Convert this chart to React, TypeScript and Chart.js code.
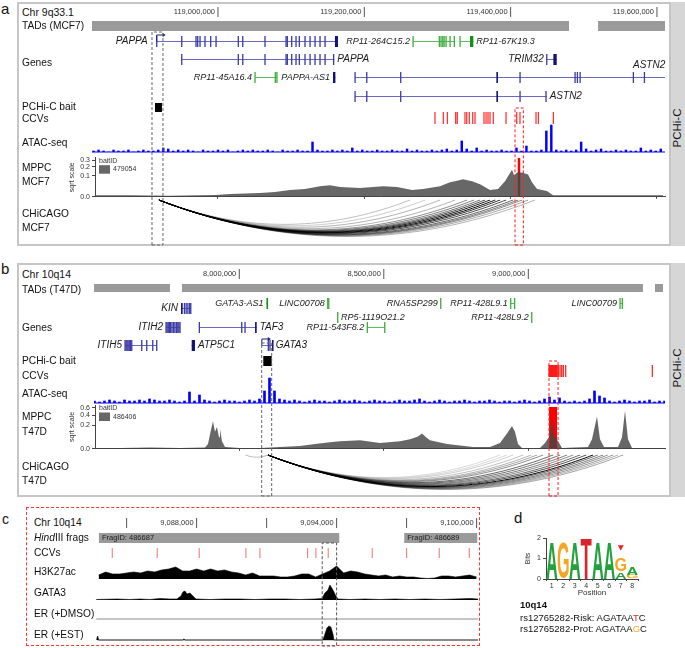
import React, { useEffect, useMemo, useRef } from 'react';
import { Chart, registerables } from 'chart.js';

Chart.register(...registerables);

const FONT = '"Liberation Sans", Arial, Helvetica, sans-serif';
Chart.defaults.font.family = FONT;
Chart.defaults.color = '#222';

// ======================= DATA =======================
// ---------- Panel a : Chr 9q33.1 (positions in Mb) ----------
const rulerTicksA = [119.0, 119.2, 119.4, 119.6];
const tadsA = [[118.8278, 119.4798], [119.5195, 119.611]];
const genesA = [
  { name: 'PAPPA', start: 118.9162, end: 119.164, row: 0, color: 'navy', label: 'left', arrow: true,
    exons: [118.9162, 118.9504, 118.9699, 118.9722, 118.9754, 118.9822, 118.99, 118.9973, 119.0277, 119.0338, 119.0642, 119.093, 119.0947, 119.1007, 119.1066, 119.1111, 119.1189, 119.1258, 119.1326, 119.1394, 119.1463],
    blocks: [[119.1599, 119.164]] },
  { name: 'RP11-264C15.2', start: 119.2666, end: 119.324, row: 0, color: 'green', label: 'left',
    exons: [119.2666, 119.3025, 119.3048, 119.3072, 119.309, 119.3117, 119.3172, 119.323], blocks: [] },
  { name: 'RP11-67K19.3', start: 119.3308, end: 119.349, row: 0, color: 'green', label: 'right',
    exons: [119.3308], blocks: [[119.3445, 119.349]] },
  { name: 'PAPPA', start: 118.9504, end: 119.159, row: 1, color: 'navy', label: 'right',
    exons: [118.9504, 119.0277, 119.0338, 119.0642, 119.093, 119.0947, 119.1007, 119.1066, 119.1111, 119.1189, 119.1258, 119.1326, 119.1394, 119.1463, 119.158], blocks: [] },
  { name: 'TRIM32', start: 119.4493, end: 119.463, row: 1, color: 'navy', label: 'left',
    exons: [119.4493], blocks: [[119.4584, 119.463]] },
  { name: 'RP11-45A16.4', start: 119.0506, end: 119.0811, row: 2, color: 'green', label: 'left',
    exons: [119.0506, 119.0783, 119.0805], blocks: [] },
  { name: 'PAPPA-AS1', start: 119.1572, end: 119.1605, row: 2, color: 'navy', label: 'left',
    exons: [], blocks: [[119.1572, 119.1605]] },
  { name: 'ASTN2', start: 119.1873, end: 119.611, row: 2, color: 'navy', label: 'none',
    exons: [119.1873, 119.2033, 119.2497, 119.4128, 119.488, 119.4912, 119.4949, 119.5677, 119.5828], blocks: [[119.3805, 119.3823]] },
  { name: 'ASTN2', start: 119.1873, end: 119.4493, row: 3, color: 'navy', label: 'right',
    exons: [119.1873, 119.2033, 119.2497, 119.4128, 119.4483], blocks: [[119.3805, 119.3823]] },
];
const baitA = [118.9139, 118.9234];
const ccvA = [119.2966, 119.308, 119.3135, 119.3249, 119.3271, 119.3376, 119.34, 119.3435, 119.3482, 119.3513, 119.3636, 119.3664, 119.3691, 119.3718, 119.3763, 119.3937, 119.4083, 119.4128, 119.4347, 119.4379, 119.4584];
const atacStartA = 118.83;
const atacStepA = 0.0068;
const atacA = [1, 2, 1, 0, 2, 1, 1, 2, 0, 1, 2, 1, 1, 2, 4, 3, 1, 2, 1, 2, 1, 0, 2, 1, 1, 2, 1, 2, 0, 1, 2, 1, 2, 1, 1, 2, 1, 0, 2, 1, 1, 2, 1, 1, 10, 2, 1, 1, 2, 1, 2, 1, 4, 1, 2, 1, 1, 2, 1, 1, 2, 1, 1, 3, 1, 2, 1, 1, 2, 1, 2, 3, 1, 2, 11, 3, 1, 4, 1, 2, 1, 1, 2, 1, 1, 4, 1, 6, 1, 1, 2, 21, 27, 2, 1, 2, 1, 2, 10, 3, 1, 2, 3, 1, 1, 2, 1, 2, 1, 1, 4, 1, 2, 1, 3];
const mppcPosA = [118.8319, 118.8797, 118.9344, 118.9754, 118.9959, 119.0164, 119.0369, 119.0574, 119.0779, 119.0984, 119.1189, 119.1394, 119.1531, 119.1668, 119.1941, 119.2256, 119.2447, 119.2652, 119.2802, 119.3035, 119.3171, 119.324, 119.3349, 119.3472, 119.3582, 119.3718, 119.3828, 119.3923, 119.4019, 119.4047, 119.4088, 119.4156, 119.4238, 119.4292, 119.4361, 119.4497, 119.458, 119.5222, 119.6083];
const mppcValA = [0.0005, 0.0005, 0.0002, 0.0005, 0.0008, 0.0019, 0.0026, 0.0034, 0.0053, 0.0103, 0.0134, 0.0254, 0.0302, 0.021, 0.017, 0.0254, 0.021, 0.0103, 0.0134, 0.0254, 0.0473, 0.0538, 0.0681, 0.0538, 0.0355, 0.0103, 0.0134, 0.0538, 0.1647, 0.1017, 0.1313, 0.1313, 0.1111, 0.0473, 0.0134, 0.0076, 0.0005, 0.0005, 0.0005];
const mppcHitA = [119.4094, 119.4135];
const mppcHitValA = 0.388;
const mppcTicksA = [0, 0.1, 0.2, 0.3];
const baitIdA = '479054';
const arcBaitA = 118.9193;
const arcEndsA = [119.2625, 119.283, 119.3035, 119.324, 119.3404, 119.35, 119.3582, 119.365, 119.3718, 119.379, 119.3855, 119.3937, 119.4033, 119.4101, 119.4156, 119.4238, 119.4333];
const arcScoreA = [0.25, 0.2, 0.3, 0.3, 0.45, 0.5, 0.55, 0.7, 0.9, 0.95, 0.8, 0.7, 0.6, 0.5, 0.45, 0.35, 0.3];
const baitBoxA = [118.9098, 118.9248];
const ccvBoxA = [119.406, 119.4174];

// ---------- Panel b : Chr 10q14 (positions in Mb) ----------
const rulerTicksB = [8.0, 8.5, 9.0];
const tadsB = [[7.4973, 7.7602], [7.8017, 9.3968], [9.4383, 9.466]];
const genesB = [
  { name: 'GATA3-AS1', start: 8.094, end: 8.0958, row: 0, color: 'green', label: 'left', exons: [], blocks: [[8.094, 8.0958]] },
  { name: 'LINC00708', start: 8.3059, end: 8.3104, row: 0, color: 'green', label: 'left', exons: [8.3059, 8.3094], blocks: [] },
  { name: 'RNA5SP299', start: 8.6968, end: 8.698, row: 0, color: 'green', label: 'left', exons: [8.6968], blocks: [] },
  { name: 'RP11-428L9.1', start: 8.939, end: 8.9539, row: 0, color: 'green', label: 'left', exons: [8.939, 8.9525], blocks: [] },
  { name: 'LINC00709', start: 9.3172, end: 9.3266, row: 0, color: 'green', label: 'left', exons: [9.3172, 9.3252], blocks: [] },
  { name: 'KIN', start: 7.7983, end: 7.8329, row: 0.26, color: 'navy', label: 'left', exons: [7.81, 7.816, 7.822, 7.828, 7.832], blocks: [[7.7983, 7.804]] },
  { name: 'RP5-1119O21.2', start: 8.3405, end: 8.3415, row: 0.74, color: 'green', label: 'right', exons: [8.3405], blocks: [] },
  { name: 'RP11-428L9.2', start: 9.0117, end: 9.0127, row: 0.74, color: 'green', label: 'left', exons: [9.0117], blocks: [] },
  { name: 'ITIH2', start: 7.7464, end: 7.7948, row: 1.26, color: 'navy', label: 'left', exons: [7.7464, 7.75, 7.754, 7.758, 7.762, 7.767, 7.772, 7.777, 7.782, 7.787, 7.791, 7.7948], blocks: [] },
  { name: 'TAF3', start: 7.8616, end: 8.0602, row: 1.26, color: 'navy', label: 'right', exons: [7.8616, 8.0083, 8.0197], blocks: [[8.0545, 8.0602]] },
  { name: 'RP11-543F8.2', start: 8.4429, end: 8.5041, row: 1.26, color: 'green', label: 'left', exons: [8.4429, 8.503], blocks: [] },
  { name: 'ITIH5', start: 7.6045, end: 7.7142, row: 2.21, color: 'navy', label: 'left', exons: [7.6045, 7.608, 7.6115, 7.615, 7.619, 7.623, 7.6277, 7.6623, 7.6796, 7.7004, 7.7142], blocks: [] },
  { name: 'ATP5C1', start: 7.8353, end: 7.8467, row: 2.21, color: 'navy', label: 'right', exons: [], blocks: [[7.8353, 7.8467]] },
  { name: 'GATA3', start: 8.078, end: 8.1156, row: 2.21, color: 'navy', label: 'right', arrow: true, exons: [8.1003, 8.106], blocks: [[8.113, 8.1156]] },
];
const baitB = [8.083, 8.1121];
const ccvB = [9.0716, 9.0751, 9.0785, 9.082, 9.0855, 9.0889, 9.0924, 9.0958, 9.0993, 9.1038, 9.1097, 9.1156, 9.1211, 9.1294, 9.429];
const atacStartB = 7.499;
const atacStepB = 0.0173;
const atacB = [2, 1, 2, 3, 2, 1, 3, 2, 2, 3, 2, 4, 3, 2, 2, 3, 2, 1, 2, 11, 2, 8, 3, 2, 1, 2, 3, 2, 2, 1, 2, 3, 2, 4, 12, 25, 12, 4, 3, 2, 3, 2, 1, 2, 3, 2, 2, 1, 2, 3, 2, 2, 3, 2, 1, 2, 3, 2, 2, 1, 2, 3, 2, 2, 3, 4, 2, 1, 2, 3, 2, 1, 2, 2, 3, 2, 1, 2, 2, 3, 2, 1, 2, 2, 1, 2, 3, 2, 1, 2, 4, 6, 3, 5, 2, 1, 2, 1, 2, 4, 12, 7, 5, 2, 1, 2, 3, 2, 1, 2, 2, 3, 1, 2, 2];
const mppcPosB = [7.5007, 7.5872, 7.691, 7.7948, 7.8813, 7.8917, 7.9021, 7.909, 7.9159, 7.9228, 7.9298, 7.9332, 7.9401, 7.9505, 8.0024, 8.0716, 8.1408, 8.21, 8.2619, 8.3138, 8.3484, 8.4176, 8.4868, 8.556, 8.5906, 8.6183, 8.6321, 8.646, 8.6598, 8.7186, 8.8086, 8.8674, 8.902, 8.9262, 8.9435, 8.9539, 8.9643, 8.9781, 9.0404, 9.0577, 9.075, 9.0819, 9.0889, 9.1027, 9.1165, 9.2065, 9.2203, 9.2376, 9.248, 9.2619, 9.3103, 9.3241, 9.3345, 9.3449, 9.3587, 9.4625];
const mppcValB = [0.0003, 0.0003, 0.0007, 0.0003, 0.0007, 0.0081, 0.1299, 0.273, 0.1052, 0.1717, 0.0468, 0.1432, 0.0208, 0.0013, 0.0003, 0.0003, 0.0013, 0.0029, 0.0081, 0.0159, 0.0208, 0.0263, 0.0117, 0.0208, 0.0325, 0.0549, 0.0831, 0.0468, 0.0263, 0.0081, 0.0013, 0.0013, 0.0117, 0.0831, 0.187, 0.1052, 0.0081, 0.0003, 0.0003, 0.0117, 0.0636, 0.3536, 0.0636, 0.0208, 0.0003, 0.0013, 0.0325, 0.3753, 0.0325, 0.0013, 0.0013, 0.0468, 0.5194, 0.0325, 0.0003, 0.0003];
const mppcHitB = [9.0716, 9.0993];
const mppcHitValB = 0.6285;
const mppcTicksB = [0, 0.2, 0.4, 0.6];
const baitIdB = '486406';
const arcBaitB = 8.0993;
const arcEndsB = [8.0221, 8.902, 8.925, 8.947, 8.9816, 9.01, 9.03, 9.0508, 9.0854, 9.11, 9.1338, 9.155, 9.1788, 9.2, 9.2238, 9.24, 9.2584, 9.275, 9.293, 9.31, 9.3276];
const arcScoreB = [0.25, 0.15, 0.15, 0.2, 0.25, 0.3, 0.35, 0.45, 0.6, 0.55, 0.5, 0.45, 0.6, 0.7, 1.0, 0.6, 0.5, 0.45, 0.4, 0.3, 0.35];
const baitBoxB = [8.0775, 8.1121];
const ccvBoxB = [9.0716, 9.1028];

// ---------- Panel c : Chr 10q14 zoom (positions in bp) ----------
const rulerTicksC = [9085000, 9088000, 9091000, 9094000, 9097000, 9100000];
const rulerLabelsC = [9088000, 9094000, 9100000];
const fragsC = [[9083813, 9094112], [9096898, 9100027]];
const fragIdsC = [486687, 486689];
const ccvC = [9084383, 9086311, 9088111, 9090113, 9090713, 9092757, 9093113, 9093640, 9095526, 9097001, 9098398, 9099684];
const h3Start = 9083800;
const h3Step = 300;
const h3k27ac = [4, 7, 5, 5, 6, 7, 6, 8, 7, 9, 10, 12, 8, 8, 10, 8, 10, 8, 9, 7, 6, 4, 6, 3, 3, 3, 2, 2, 3, 5, 5, 2, 5, 8, 13, 6, 8, 7, 5, 4, 3, 4, 2, 3, 2, 2, 1, 0.5, 1, 3, 3, 2, 3, 4, 2];
const gata3Pos = [9083684, 9084584, 9085141, 9085570, 9085998, 9086427, 9086856, 9087156, 9087327, 9087413, 9087499, 9087584, 9087713, 9087841, 9087970, 9088570, 9089213, 9089856, 9090499, 9091142, 9091785, 9092427, 9093070, 9093370, 9093499, 9093628, 9093713, 9093842, 9093970, 9094056, 9094570, 9095213, 9095856, 9096499, 9097142, 9097785, 9098428, 9099071, 9099714, 9100057];
const gata3Val = [0.5, 1, 0.5, 1, 0.5, 1.5, 1, 1, 4, 8, 9, 6, 7, 4, 1, 0.5, 1, 1, 0.5, 1, 1, 0.5, 1, 1.5, 7, 10, 15, 10, 4, 1, 0.5, 1, 0.5, 1, 0.5, 1, 0.5, 1, 1.5, 1];
const erDmsoPos = [9083700, 9100050];
const erDmsoVal = [0, 0];
const erEstPos = [9083700, 9083760, 9083800, 9083850, 9087400, 9087456, 9087510, 9093413, 9093499, 9093585, 9093670, 9093756, 9093842, 9093885, 9100050];
const erEstVal = [0, 4, 0, 0, 0, 1, 0, 0, 6, 12, 14, 13, 6, 0, 0];
const baitBoxC = [9093383, 9094000];

// ---------- Panel d : GATA3 motif logo ----------
const logoPositions = ['1', '2', '3', '4', '5', '6', '7', '8'];
const logoLowLetters = ['A', 'G', 'A', 'T', 'A', 'A', 'A', 'G'];
const logoLowBits = [1.82, 1.74, 1.79, 1.98, 1.82, 1.82, 0.36, 0.2];
const logoHighLetters = ['', '', '', '', '', '', 'G', 'A'];
const logoHighBits = [0, 0, 0, 0, 0, 0, 0.65, 0.36];
const logoYTicks = [0, 1, 2];
const logoMarkPos = '7';
const logoMarkBits = 1.56;

// ======================= STYLE / LAYOUT =======================
const NAVY = { line: '#6a6ac4', exon: '#3a3aa8', block: '#12127c' };
const GREEN = { line: '#58c058', exon: '#3cae3c', block: '#148f14' };
const LETTER_COLORS = { A: '#22a23c', G: '#f4a623', T: '#d8262d', C: '#2060c0' };

const PA = { left: 92, width: 573, xr: [118.8278, 119.611] };
const PB = { left: 94, width: 571, xr: [7.4973, 9.4729] };
const PC = { left: 97, width: 381, xr: [9083730, 9100060] };
const xAt = (P, px) => P.xr[0] + ((px - P.left) / P.width) * (P.xr[1] - P.xr[0]);

const fmtMb = (v) => Math.round(v * 1e6).toLocaleString('en-US');
const fmtBp = (v) => Math.round(v).toLocaleString('en-US');

// ======================= HELPERS =======================
function place(area, pad = 2) {
  const cl = Math.floor(area.left - pad);
  const ct = Math.floor(area.top - pad);
  const cr = Math.ceil(area.left + area.width + pad);
  const cb = Math.ceil(area.top + area.height + pad);
  return {
    canvas: { left: cl, top: ct, width: cr - cl, height: cb - ct },
    padding: { left: area.left - cl, top: area.top - ct, right: cr - area.left - area.width, bottom: cb - area.top - area.height },
  };
}

function trackSpec({ area, xr, yr, datasets, type = 'line', plugins = [], reverseY = false }) {
  const { canvas, padding } = place(area);
  return {
    canvas,
    config: {
      type,
      data: { datasets },
      plugins,
      options: {
        responsive: false, maintainAspectRatio: false, animation: false, devicePixelRatio: 1, events: [],
        layout: { padding },
        plugins: { legend: { display: false }, tooltip: { enabled: false } },
        scales: {
          x: { type: 'linear', display: false, min: xr[0], max: xr[1], offset: false },
          y: { type: 'linear', display: false, min: yr[0], max: yr[1], reverse: reverseY },
        },
      },
    },
  };
}

const lineDs = (data, color, width, extra = {}) => ({
  type: 'line', data, borderColor: color, backgroundColor: color, borderWidth: width,
  pointRadius: 0, fill: false, tension: 0, clip: false, spanGaps: false, ...extra,
});
const segs = (ranges, y) => ranges.flatMap(([s, e]) => [{ x: s, y }, { x: e, y }, { x: e, y: null }]);
const vticks = (pos) => pos.flatMap((p) => [{ x: p, y: 0 }, { x: p, y: 1 }, { x: p, y: null }]);
const rectPts = ([s, e]) => [{ x: s, y: 0 }, { x: e, y: 0 }, { x: e, y: 1 }, { x: s, y: 1 }, { x: s, y: 0 }];
const zip = (pos, val, f = (v) => v) => pos.map((p, i) => ({ x: p, y: f(val[i]) }));
const bins = (start, step, vals) => vals.map((v, i) => ({ x: start + i * step, y: v }));

// interaction arc between bait and other end (parabolic, depth ~ half span)
function arcData(a, b, n = 60) {
  const c = (a + b) / 2;
  const r = Math.abs(b - a) / 2;
  const dir = b >= a ? 1 : -1;
  const pts = [];
  for (let k = 0; k <= n; k++) {
    const th = (Math.PI * k) / n;
    const s = Math.sin(th);
    pts.push({ x: c - dir * r * Math.cos(th), y: -r * s * s });
  }
  return pts;
}

function textPlugin(items) {
  return {
    id: 'texts',
    afterDatasetsDraw(chart) {
      const { ctx } = chart;
      const xs = chart.scales.x;
      const ys = chart.scales.y;
      ctx.save();
      for (const t of items) {
        ctx.font = t.font;
        ctx.fillStyle = t.color || '#222';
        ctx.textAlign = t.align || 'left';
        ctx.textBaseline = 'middle';
        ctx.fillText(t.text, xs.getPixelForValue(t.x) + (t.dx || 0), ys.getPixelForValue(t.y) + (t.dy || 0));
      }
      ctx.restore();
    },
  };
}

function mppcLegendPlugin(baitId) {
  return {
    id: 'mppcLegend',
    afterDatasetsDraw(chart) {
      const { ctx, chartArea } = chart;
      const ds = chart.data.datasets[0];
      const l = chartArea.left + 4;
      const t = chartArea.top;
      ctx.save();
      ctx.font = `7px ${FONT}`;
      ctx.textAlign = 'left';
      ctx.textBaseline = 'middle';
      ctx.fillStyle = '#333';
      ctx.fillText('baitID', l, t + 3.5);
      ctx.fillStyle = ds.backgroundColor;
      ctx.fillRect(l, t + 7.5, 11, 8.5);
      ctx.fillStyle = '#333';
      ctx.fillText(baitId, l + 14, t + 11.8);
      ctx.restore();
    },
  };
}

function genePlugin(genes, exonH) {
  return {
    id: 'genes',
    afterDatasetsDraw(chart) {
      const { ctx } = chart;
      const xs = chart.scales.x;
      const ys = chart.scales.y;
      ctx.save();
      for (const g of genes) {
        const col = g.color === 'green' ? GREEN : NAVY;
        const y = Math.round(ys.getPixelForValue(g.row)) + 0.5;
        const x0 = xs.getPixelForValue(g.start);
        const x1 = xs.getPixelForValue(g.end);
        ctx.strokeStyle = col.line;
        ctx.lineWidth = 1;
        ctx.beginPath();
        ctx.moveTo(x0, y);
        ctx.lineTo(x1, y);
        ctx.stroke();
        ctx.fillStyle = col.exon;
        for (const p of g.exons) {
          const px = xs.getPixelForValue(p);
          ctx.fillRect(px - 0.6, y - exonH / 2, 1.3, exonH);
        }
        ctx.fillStyle = col.block;
        for (const [s, e] of g.blocks) {
          const a = xs.getPixelForValue(s);
          const b = xs.getPixelForValue(e);
          ctx.fillRect(a, y - exonH / 2, Math.max(1.6, b - a), exonH);
        }
        if (g.arrow) {
          ctx.strokeStyle = '#1a1a80';
          ctx.fillStyle = '#1a1a80';
          ctx.lineWidth = 1;
          ctx.beginPath();
          ctx.moveTo(x0, y);
          ctx.lineTo(x0, y - 6.5);
          ctx.lineTo(x0 + 7, y - 6.5);
          ctx.stroke();
          ctx.beginPath();
          ctx.moveTo(x0 + 9, y - 6.5);
          ctx.lineTo(x0 + 6, y - 8.5);
          ctx.lineTo(x0 + 6, y - 4.5);
          ctx.closePath();
          ctx.fill();
        }
        if (g.label !== 'none') {
          const small = g.name.length > 6;
          ctx.font = `italic ${small ? 9 : 10}px ${FONT}`;
          ctx.fillStyle = '#1a1a1a';
          ctx.textBaseline = 'middle';
          if (g.label === 'left') {
            ctx.textAlign = 'right';
            ctx.fillText(g.name, x0 - (g.arrow ? 9 : 3), y);
          } else {
            ctx.textAlign = 'left';
            ctx.fillText(g.name, x1 + 3, y);
          }
        }
      }
      ctx.restore();
    },
  };
}

const letterPlugin = {
  id: 'logoLetters',
  afterDatasetsDraw(chart) {
    const { ctx } = chart;
    chart.data.datasets.forEach((ds, di) => {
      if (!ds.letters) return;
      const meta = chart.getDatasetMeta(di);
      meta.data.forEach((el, j) => {
        const L = ds.letters[j];
        if (!L) return;
        const { x, y, base, width } = el.getProps(['x', 'y', 'base', 'width'], true);
        const h = base - y;
        if (h <= 0.5) return;
        ctx.save();
        ctx.font = `bold 100px ${FONT}`;
        ctx.textAlign = 'left';
        ctx.textBaseline = 'alphabetic';
        const m = ctx.measureText(L);
        const gw = m.actualBoundingBoxLeft + m.actualBoundingBoxRight;
        const gh = m.actualBoundingBoxAscent + m.actualBoundingBoxDescent;
        const sx = width / gw;
        const sy = h / gh;
        ctx.translate(x - width / 2 + m.actualBoundingBoxLeft * sx, base - m.actualBoundingBoxDescent * sy);
        ctx.scale(sx, sy);
        ctx.fillStyle = LETTER_COLORS[L];
        ctx.fillText(L, 0, 0);
        ctx.restore();
      });
    });
  },
};

function rulerSpec(P, top, tickVals, labelVals, fmt) {
  return trackSpec({
    area: { left: P.left, top, width: P.width, height: 10 }, xr: P.xr, yr: [0, 1],
    datasets: [lineDs(vticks(tickVals), '#555', 1)],
    plugins: [textPlugin(labelVals.map((v) => ({ x: v, y: 0.5, dx: -3, text: fmt(v), align: 'right', font: `7.5px ${FONT}`, color: '#333' })))],
  });
}

function mppcSpec({ P, canvas, padding, ymax, pos, val, hit, hitVal, yTicks, xTicks, baitId }) {
  return {
    canvas,
    config: {
      type: 'line',
      data: {
        datasets: [
          { label: baitId, data: zip(pos, val, Math.sqrt), fill: 'origin', backgroundColor: 'rgba(70,70,70,0.82)', borderColor: 'rgba(70,70,70,0.82)', borderWidth: 0, pointRadius: 0, tension: 0 },
          { label: 'hit', data: [{ x: hit[0], y: 0 }, { x: hit[0], y: Math.sqrt(hitVal) }, { x: hit[1], y: Math.sqrt(hitVal) }, { x: hit[1], y: 0 }], fill: 'origin', backgroundColor: '#ff0000', borderWidth: 0, pointRadius: 0, tension: 0, clip: false },
        ],
      },
      plugins: [mppcLegendPlugin(baitId)],
      options: {
        responsive: false, maintainAspectRatio: false, animation: false, devicePixelRatio: 1, events: [],
        layout: { padding },
        scales: {
          x: {
            type: 'linear', position: 'bottom', min: xAt(P, 95), max: P.xr[1], offset: false,
            afterBuildTicks: (s) => { s.ticks = xTicks.map((v) => ({ value: v })); },
            afterFit: (s) => { s.height = 3; },
            ticks: { display: false },
            grid: { drawOnChartArea: false, tickLength: 2, color: '#444' },
            border: { color: '#444' },
          },
          y: {
            type: 'linear', position: 'left', min: 0, max: ymax,
            afterBuildTicks: (s) => { s.ticks = yTicks.map((v) => ({ value: Math.sqrt(v) })); },
            afterFit: (s) => { s.width = 32; },
            ticks: { font: { size: 7 }, color: '#333', padding: 2, callback: (v) => (v * v).toFixed(1) },
            grid: { drawOnChartArea: false, tickLength: 3, color: '#444' },
            border: { color: '#444' },
            title: { display: true, text: 'sqrt scale', font: { size: 7 }, color: '#333', padding: { top: 5, bottom: 0 } },
          },
        },
        plugins: { tooltip: { enabled: false }, legend: { display: false } },
      },
    },
  };
}

function buildSpecs() {
  const specs = [];
  // ---------------- Panel a ----------------
  specs.push(rulerSpec(PA, 7, rulerTicksA, rulerTicksA, fmtMb));
  specs.push(trackSpec({ area: { left: PA.left, top: 21, width: PA.width, height: 10 }, xr: PA.xr, yr: [0, 1], datasets: [lineDs(segs(tadsA, 0.5), '#9a9a9a', 10)] }));
  specs.push(trackSpec({
    area: { left: PA.left, top: 29.7, width: PA.width, height: 77 }, xr: PA.xr, yr: [-0.6, 3.6], reverseY: true, datasets: [],
    plugins: [genePlugin(genesA, 11), textPlugin([{ x: 119.5673, y: 1.35, text: 'ASTN2', font: `italic 10px ${FONT}`, color: '#1a1a1a' }])],
  }));
  specs.push(trackSpec({ area: { left: PA.left, top: 103, width: PA.width, height: 9 }, xr: PA.xr, yr: [0, 1], datasets: [lineDs(segs([baitA], 0.5), '#000', 9)] }));
  specs.push(trackSpec({ area: { left: PA.left, top: 112, width: PA.width, height: 12 }, xr: PA.xr, yr: [0, 1], datasets: [lineDs(vticks(ccvA), '#ff2a2a', 1.2)] }));
  specs.push(trackSpec({
    area: { left: PA.left, top: 124, width: PA.width, height: 28 }, xr: PA.xr, yr: [0, 28], type: 'bar',
    datasets: [
      { type: 'bar', data: bins(atacStartA, atacStepA, atacA), backgroundColor: '#0000ff', barThickness: 1.8 },
      lineDs([{ x: PA.xr[0], y: 0 }, { x: PA.xr[1], y: 0 }], '#0000ff', 1.2),
    ],
  }));
  specs.push(mppcSpec({
    P: PA, canvas: { left: 63, top: 150, width: 605, height: 53 }, padding: { left: 0, top: 7.7, right: 3, bottom: 2 },
    ymax: 0.584, pos: mppcPosA, val: mppcValA, hit: mppcHitA, hitVal: mppcHitValA, yTicks: mppcTicksA, xTicks: rulerTicksA, baitId: baitIdA,
  }));
  specs.push(trackSpec({
    area: { left: PA.left, top: 200, width: PA.width, height: 45 }, xr: PA.xr, yr: [-0.317, 0],
    datasets: arcEndsA.map((e, i) => lineDs(arcData(arcBaitA, e), `rgba(0,0,0,${arcScoreA[i]})`, 1)),
  }));
  specs.push(trackSpec({ area: { left: PA.left, top: 32, width: PA.width, height: 213 }, xr: PA.xr, yr: [0, 1], datasets: [lineDs(rectPts(baitBoxA), '#666', 1, { borderDash: [3, 2] })] }));
  specs.push(trackSpec({ area: { left: PA.left, top: 108, width: PA.width, height: 137 }, xr: PA.xr, yr: [0, 1], datasets: [lineDs(rectPts(ccvBoxA), '#ff2020', 1, { borderDash: [3, 2] })] }));

  // ---------------- Panel b ----------------
  specs.push(rulerSpec(PB, 269, rulerTicksB, rulerTicksB, fmtMb));
  specs.push(trackSpec({ area: { left: PB.left, top: 284, width: PB.width, height: 8 }, xr: PB.xr, yr: [0, 1], datasets: [lineDs(segs(tadsB, 0.5), '#9a9a9a', 8)] }));
  specs.push(trackSpec({
    area: { left: PB.left, top: 291.6, width: PB.width, height: 64.6 }, xr: PB.xr, yr: [-0.6, 2.8], reverseY: true, datasets: [],
    plugins: [genePlugin(genesB, 11)],
  }));
  specs.push(trackSpec({ area: { left: PB.left, top: 356, width: PB.width, height: 10 }, xr: PB.xr, yr: [0, 1], datasets: [lineDs(segs([baitB], 0.5), '#000', 10)] }));
  specs.push(trackSpec({ area: { left: PB.left, top: 365, width: PB.width, height: 12 }, xr: PB.xr, yr: [0, 1], datasets: [lineDs(vticks(ccvB), '#ff1a1a', 1.2)] }));
  specs.push(trackSpec({
    area: { left: PB.left, top: 376, width: PB.width, height: 27 }, xr: PB.xr, yr: [0, 27], type: 'bar',
    datasets: [
      { type: 'bar', data: bins(atacStartB, atacStepB, atacB), backgroundColor: '#0000ff', barThickness: 2 },
      lineDs([{ x: PB.xr[0], y: 0 }, { x: PB.xr[1], y: 0 }], '#0000ff', 1.2),
    ],
  }));
  specs.push(mppcSpec({
    P: PB, canvas: { left: 63, top: 398, width: 605, height: 57 }, padding: { left: 0, top: 7, right: 3, bottom: 1 },
    ymax: 0.829, pos: mppcPosB, val: mppcValB, hit: mppcHitB, hitVal: mppcHitValB, yTicks: mppcTicksB, xTicks: rulerTicksB, baitId: baitIdB,
  }));
  specs.push(trackSpec({
    area: { left: PB.left, top: 455, width: PB.width, height: 41 }, xr: PB.xr, yr: [-0.731, 0],
    datasets: arcEndsB.map((e, i) => lineDs(arcData(arcBaitB, e), `rgba(0,0,0,${arcScoreB[i]})`, 1)),
  }));
  specs.push(trackSpec({ area: { left: PB.left, top: 343, width: PB.width, height: 153 }, xr: PB.xr, yr: [0, 1], datasets: [lineDs(rectPts(baitBoxB), '#666', 1, { borderDash: [3, 2] })] }));
  specs.push(trackSpec({ area: { left: PB.left, top: 361, width: PB.width, height: 135 }, xr: PB.xr, yr: [0, 1], datasets: [lineDs(rectPts(ccvBoxB), '#ff2020', 1, { borderDash: [3, 2] })] }));

  // ---------------- Panel c ----------------
  specs.push(rulerSpec(PC, 518, rulerTicksC, rulerLabelsC, fmtBp));
  specs.push(trackSpec({
    area: { left: PC.left, top: 533, width: PC.width, height: 10 }, xr: PC.xr, yr: [0, 1],
    datasets: [lineDs(segs(fragsC, 0.5), '#9a9a9a', 10)],
    plugins: [textPlugin(fragsC.map((f, i) => ({ x: f[0], y: 0.5, dx: 3, text: `FragID: ${fragIdsC[i]}`, font: `7.5px ${FONT}`, color: '#222' })))],
  }));
  specs.push(trackSpec({ area: { left: PC.left, top: 548, width: PC.width, height: 10 }, xr: PC.xr, yr: [0, 1], datasets: [lineDs(vticks(ccvC), '#f07272', 1)] }));
  specs.push(trackSpec({
    area: { left: PC.left, top: 561, width: PC.width, height: 18 }, xr: PC.xr, yr: [0, 18],
    datasets: [lineDs(bins(h3Start, h3Step, h3k27ac), '#000', 0.6, { fill: 'origin', backgroundColor: '#000' })],
  }));
  specs.push(trackSpec({
    area: { left: PC.left, top: 583, width: PC.width, height: 17 }, xr: PC.xr, yr: [0, 17],
    datasets: [lineDs(zip(gata3Pos, gata3Val), '#000', 0.6, { fill: 'origin', backgroundColor: '#000' })],
  }));
  specs.push(trackSpec({
    area: { left: PC.left, top: 604, width: PC.width, height: 15 }, xr: PC.xr, yr: [0, 15],
    datasets: [lineDs(zip(erDmsoPos, erDmsoVal), '#8a8a8a', 1)],
  }));
  specs.push(trackSpec({
    area: { left: PC.left, top: 624, width: PC.width, height: 16 }, xr: PC.xr, yr: [0, 16],
    datasets: [
      lineDs(zip(erEstPos, erEstVal), '#000', 0.6, { fill: 'origin', backgroundColor: '#000' }),
      lineDs([{ x: PC.xr[0], y: 0 }, { x: PC.xr[1], y: 0 }], '#8a8a8a', 1),
    ],
  }));
  specs.push(trackSpec({ area: { left: PC.left, top: 543, width: PC.width, height: 103 }, xr: PC.xr, yr: [0, 1], datasets: [lineDs(rectPts(baitBoxC), '#555', 1, { borderDash: [3, 2] })] }));

  // ---------------- Panel d ----------------
  specs.push({
    canvas: { left: 520, top: 530, width: 122, height: 70 },
    config: {
      type: 'bar',
      data: {
        labels: logoPositions,
        datasets: [
          { label: 'low', data: logoLowBits, letters: logoLowLetters, backgroundColor: 'rgba(0,0,0,0)', barPercentage: 0.96, categoryPercentage: 1, stack: 'logo' },
          { label: 'high', data: logoHighBits, letters: logoHighLetters, backgroundColor: 'rgba(0,0,0,0)', barPercentage: 0.96, categoryPercentage: 1, stack: 'logo' },
          { type: 'scatter', label: 'mark', data: [{ x: logoMarkPos, y: logoMarkBits }], pointStyle: 'triangle', rotation: 180, pointRadius: 3.5, backgroundColor: '#e8251e', borderWidth: 0 },
        ],
      },
      plugins: [letterPlugin],
      options: {
        responsive: false, maintainAspectRatio: false, animation: false, devicePixelRatio: 1, events: [],
        layout: { padding: { left: 0, top: 8, right: 4, bottom: 0 } },
        plugins: { legend: { display: false }, tooltip: { enabled: false } },
        scales: {
          x: {
            stacked: true, offset: true,
            afterFit: (s) => { s.height = 21; },
            grid: { drawOnChartArea: false, tickLength: 2, color: '#444' },
            border: { color: '#444' },
            ticks: { font: { size: 7 }, color: '#333', padding: 1, maxRotation: 0, autoSkip: false },
            title: { display: true, text: 'Position', font: { size: 8 }, color: '#333', padding: { top: 0, bottom: 2 } },
          },
          y: {
            stacked: true, min: 0, max: 2,
            afterBuildTicks: (s) => { s.ticks = logoYTicks.map((v) => ({ value: v })); },
            afterFit: (s) => { s.width = 26; },
            grid: { drawOnChartArea: false, tickLength: 3, color: '#444' },
            border: { color: '#444' },
            ticks: { font: { size: 7 }, color: '#333', padding: 2 },
            title: { display: true, text: 'Bits', font: { size: 7 }, color: '#333', padding: { top: 4, bottom: 0 } },
          },
        },
      },
    },
  });
  return specs;
}

function ChartBox({ spec }) {
  const ref = useRef(null);
  useEffect(() => {
    const chart = new Chart(ref.current, spec.config);
    return () => chart.destroy();
  }, [spec]);
  const c = spec.canvas;
  return (
    <canvas ref={ref} width={c.width} height={c.height}
      style={{ position: 'absolute', left: c.left, top: c.top, width: c.width, height: c.height, display: 'block' }} />
  );
}

function Txt({ x, y, children, size = 10.2, bold = false, italic = false, color = '#111' }) {
  return (
    <div style={{ position: 'absolute', left: x, top: y, transform: 'translateY(-50%)', fontSize: size, lineHeight: 1, whiteSpace: 'nowrap', fontWeight: bold ? 'bold' : 'normal', fontStyle: italic ? 'italic' : 'normal', color }}>
      {children}
    </div>
  );
}

const labelsA = [['Chr 9q33.1', 12, 10.5], ['TADs (MCF7)', 25.5], ['Genes', 62.5], ['PCHi-C bait', 107], ['CCVs', 119], ['ATAC-seq', 143], ['MPPC', 168], ['MCF7', 182], ['CHiCAGO', 214], ['MCF7', 228]];
const labelsB = [['Chr 10q14', 274, 10.5], ['TADs (T47D)', 290], ['Genes', 328], ['PCHi-C bait', 361], ['CCVs', 376], ['ATAC-seq', 394], ['MPPC', 417], ['T47D', 432], ['CHiCAGO', 467], ['T47D', 481]];
const labelsC = [['Chr 10q14', 523], ['CCVs', 553], ['H3K27ac', 572], ['GATA3', 593], ['ER (+DMSO)', 614], ['ER (+EST)', 635]];

export default function App() {
  const specs = useMemo(() => buildSpecs(), []);
  const frame = (top, height) => (
    <>
      <div style={{ position: 'absolute', left: 17, top, width: 654, height, border: '2px solid #c6c6c6', boxSizing: 'border-box' }} />
      <div style={{ position: 'absolute', left: 671, top, width: 14, height, background: '#d6d6d6' }} />
    </>
  );
  const strip = (cy) => (
    <div style={{ position: 'absolute', left: 678, top: cy, transform: 'translate(-50%,-50%) rotate(-90deg)', fontSize: 11.5, lineHeight: 1, whiteSpace: 'nowrap', color: '#111' }}>PCHi-C</div>
  );
  return (
    <div style={{ position: 'fixed', left: 0, top: 0, width: 685, height: 648, background: '#fff', overflow: 'hidden', fontFamily: FONT }}>
      {frame(2, 244)}
      {frame(263, 234)}
      <div style={{ position: 'absolute', left: 26, top: 507, width: 454, height: 139, border: '1px dashed #f33', boxSizing: 'border-box' }} />
      {strip(128)}
      {strip(368)}
      {specs.map((s, i) => <ChartBox key={i} spec={s} />)}
      <Txt x={1} y={7.5} size={15}>a</Txt>
      <Txt x={1} y={268} size={15}>b</Txt>
      <Txt x={2} y={519} size={14}>c</Txt>
      <Txt x={514} y={517} size={15}>d</Txt>
      {labelsA.map(([t, y, s], i) => <Txt key={'a' + i} x={22} y={y} size={s || 10.2}>{t}</Txt>)}
      {labelsB.map(([t, y, s], i) => <Txt key={'b' + i} x={22} y={y} size={s || 10.2}>{t}</Txt>)}
      {labelsC.map(([t, y], i) => <Txt key={'c' + i} x={34} y={y}>{t}</Txt>)}
      <Txt x={34} y={538}><i>Hind</i>III frags</Txt>
      <Txt x={520} y={605} size={9.5} bold>10q14</Txt>
      <Txt x={520} y={618} size={9.5}>rs12765282-Risk: AGATAA<span style={{ color: '#e8251e' }}>T</span>C</Txt>
      <Txt x={520} y={629} size={9.5}>rs12765282-Prot: AGATAA<span style={{ color: '#f4a623' }}>G</span>C</Txt>
    </div>
  );
}
